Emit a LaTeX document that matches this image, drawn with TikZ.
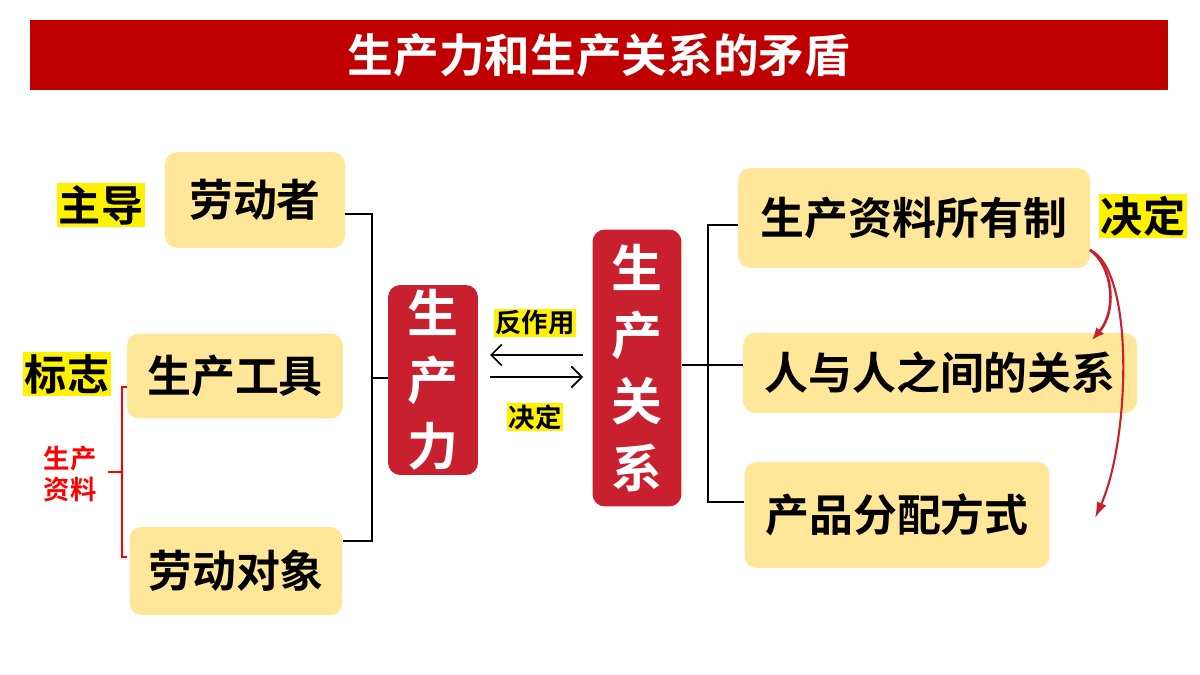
\documentclass[tikz,border=0pt]{standalone}
\usepackage{fontspec}
\setmainfont{Noto Sans CJK SC}[BoldFont={Noto Sans CJK SC Bold}]
\usetikzlibrary{arrows.meta}
\definecolor{boxyellow}{HTML}{FFE699}
\definecolor{darkred}{HTML}{C8202F}
\definecolor{titlered}{HTML}{C00000}
\begin{document}
\begin{tikzpicture}[x=0.02cm,y=-0.02cm,
    box/.style = {fill=boxyellow, rounded corners=7pt, font=\bfseries\fontsize{25}{27}\selectfont, inner sep=0pt},
    core/.style = {fill=darkred, rounded corners=7pt, text=white, font=\bfseries\fontsize{29}{38}\selectfont, align=center, inner sep=0pt},
    tag/.style = {fill=yellow, font=\bfseries\fontsize{24}{26}\selectfont, inner sep=1pt},
    small/.style = {fill=yellow, font=\bfseries\fontsize{15}{17}\selectfont, inner sep=1pt},
    link/.style = {black, line width=0.8pt}]
  \useasboundingbox (0,0) rectangle (1200,675);
  % title
  \node[fill=titlered, text=white, minimum width=22.76cm, minimum height=1.4cm, font=\bfseries\fontsize{26}{28}\selectfont] (title) at (599,55) {生产力和生产关系的矛盾};
  % left boxes
  \node[box, minimum width=3.6cm, minimum height=1.92cm] (worker) at (255,200) {劳动者};
  \node[box, minimum width=4.32cm, minimum height=1.7cm] (tool) at (235,376) {生产工具};
  \node[box, minimum width=4.26cm, minimum height=1.76cm] (object) at (236,571) {劳动对象};
  \node[tag] (lead) at (101,205) {主导};
  \node[tag] (sign) at (67,374) {标志};
  % centre
  \node[core, minimum width=1.8cm, minimum height=3.8cm] (force) at (433,380) {生\\产\\力};
  \node[core, minimum width=1.78cm, minimum height=5.54cm] (relation) at (637,368) {生\\产\\关\\系};
  \node[small] (react) at (535,323) {反作用};
  \node[small] (decide) at (535,417) {决定};
  \coordinate (la) at (490,355);
  \coordinate (lb) at (583,355);
  \coordinate (ra) at (490,377);
  \coordinate (rb) at (583,377);
  \draw[-{Straight Barb[length=6pt]}, line width=1pt] (lb) -- (la);
  \draw[-{Straight Barb[length=6pt]}, line width=1pt] (ra) -- (rb);
  % right boxes
  \node[box, minimum width=7.04cm, minimum height=2cm] (own) at (914,218) {生产资料所有制};
  \node[box, minimum width=7.88cm, minimum height=1.6cm] (people) at (940,373) {人与人之间的关系};
  \node[box, minimum width=6.1cm, minimum height=2.12cm] (share) at (897,515) {产品分配方式};
  \node[tag] (decide2) at (1143,216) {决定};
  % left connector
  \draw[link] (worker.east |- 0,214) -- (372,214) -- (372,541) -- (object.east |- 0,541);
  \draw[link] (372,378) -- (force.west |- 0,378);
  % right connector
  \draw[link] (relation.east |- 0,365) -- (708,365);
  \draw[link] (own.west |- 0,225) -- (708,225) -- (708,502) -- (share.west |- 0,502);
  \draw[link] (708,365) -- (people.west |- 0,365);
  % red bracket
  \node[text=red, font=\bfseries\fontsize{15}{18}\selectfont, align=center] (means) at (70,474) {生产\\资料};
  \draw[red, line width=1.5pt] (127,387) -- (122,387) -- (122,557) -- (127,557);
  \draw[red, line width=1.5pt] (108,472) -- (122,472);
  % curved arrows
  \coordinate (cs) at (1090,250);
  \coordinate (ce1) at (1092,340);
  \coordinate (ce2) at (1095,518);
  \draw[darkred, line width=1.5pt, -{Latex[length=7pt,width=6pt]}] (cs) .. controls (1112,265) and (1118,310) .. (ce1);
  \draw[darkred, line width=1.2pt, -{Latex[length=9pt,width=6pt]}] (cs) .. controls (1135,270) and (1130,440) .. (ce2);
\end{tikzpicture}
\end{document}
